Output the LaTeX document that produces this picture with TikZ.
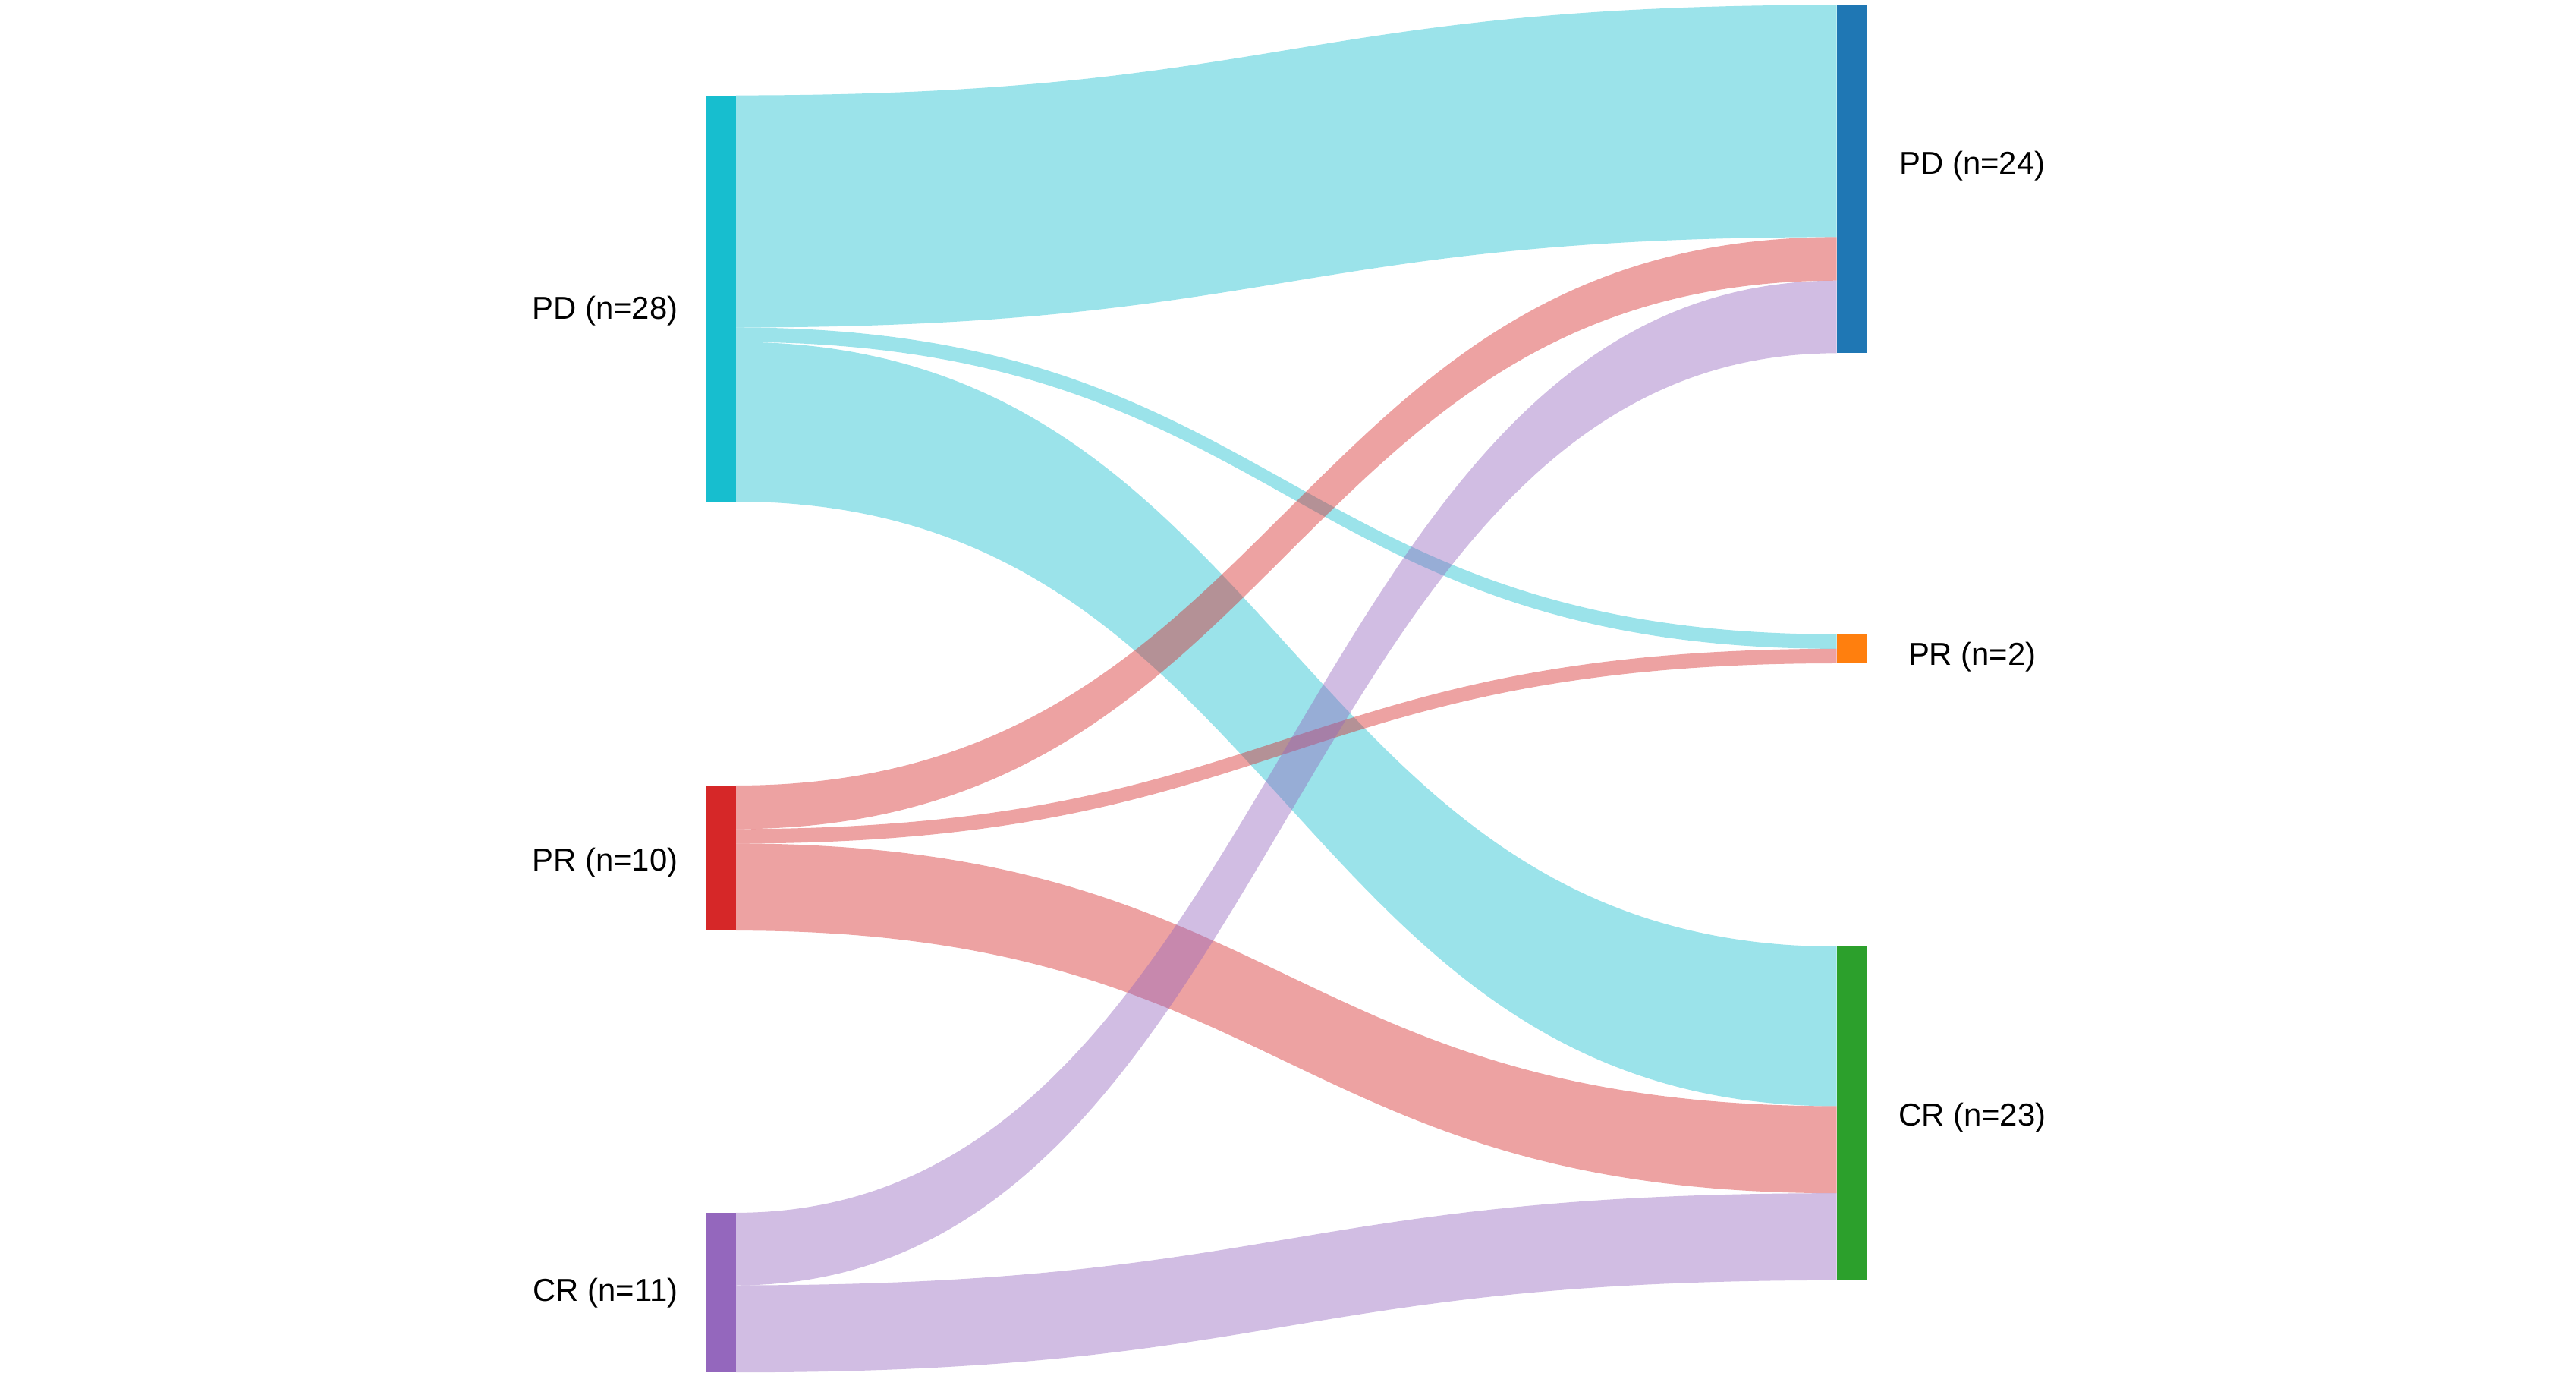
\documentclass[tikz,border=0pt]{standalone}
\usepackage{fontspec}
\setmainfont{Liberation Sans}
\usetikzlibrary{calc}
\definecolor{pdLeftCol}{HTML}{17BECF}
\definecolor{prLeftCol}{HTML}{D62728}
\definecolor{crLeftCol}{HTML}{9467BD}
\definecolor{pdRightCol}{HTML}{1F77B4}
\definecolor{prRightCol}{HTML}{FF7F0E}
\definecolor{crRightCol}{HTML}{2CA02C}
\newcommand{\pxUnit}{0.02cm}
\newcommand{\nodeUnit}{8.83}
\newcommand{\barWidth}{18}
\newcommand{\linkOpacity}{0.43}
\newcommand{\bendLength}{335}
% band from #2 (offset #3) to #4 (offset #5), #6 patients wide
\newcommand{\flowBand}[6]{%
  \fill[#1,opacity=\linkOpacity] ($(#2.north east)+(0,{#3*\nodeUnit})$)
    .. controls +(\bendLength,0) and +(-\bendLength,0) .. ($(#4.north west)+(0,{#5*\nodeUnit})$)
    -- ($(#4.north west)+(0,{(#5+#6)*\nodeUnit})$)
    .. controls +(-\bendLength,0) and +(\bendLength,0) .. ($(#2.north east)+(0,{(#3+#6)*\nodeUnit})$)
    -- cycle;}
\tikzset{
  bar/.style={rectangle, inner sep=0pt, outer sep=0pt, draw=none, anchor=north,
    minimum width=\barWidth*\pxUnit, minimum height=#1*\nodeUnit*\pxUnit},
  lbl/.style={inner sep=0pt, font=\fontsize{11}{13}\selectfont}
}
\begin{document}
\begin{tikzpicture}[x=\pxUnit, y=-\pxUnit]
\useasboundingbox (0,0) rectangle (1568,837);
% baseline nodes
\node[bar=28, fill=pdLeftCol] (pdL) at (439,58) {};
\node[bar=10, fill=prLeftCol] (prL) at (439,478) {};
\node[bar=11, fill=crLeftCol] (crL) at (439,738) {};
% follow-up nodes
\node[bar=24, fill=pdRightCol] (pdR) at (1127,3) {};
\node[bar=2, fill=prRightCol] (prR) at (1127,386) {};
\node[bar=23, fill=crRightCol] (crR) at (1127,576) {};

\flowBand{pdLeftCol}{pdL}{0}{pdR}{0}{16}
\flowBand{pdLeftCol}{pdL}{16}{prR}{0}{1}
\flowBand{pdLeftCol}{pdL}{17}{crR}{0}{11}
\flowBand{prLeftCol}{prL}{0}{pdR}{16}{3}
\flowBand{prLeftCol}{prL}{3}{prR}{1}{1}
\flowBand{prLeftCol}{prL}{4}{crR}{11}{6}
\flowBand{crLeftCol}{crL}{0}{pdR}{19}{5}
\flowBand{crLeftCol}{crL}{5}{crR}{17}{6}

\node[lbl, anchor=east] (pdLlabel) at (413,189) {PD (n=28)};
\node[lbl, anchor=east] (prLlabel) at (413,525) {PR (n=10)};
\node[lbl, anchor=east] (crLlabel) at (413,787) {CR (n=11)};
\node[lbl] (pdRlabel) at (1200.5,101) {PD (n=24)};
\node[lbl] (prRlabel) at (1200.5,400) {PR (n=2)};
\node[lbl] (crRlabel) at (1200.5,680) {CR (n=23)};
\end{tikzpicture}
\end{document}
